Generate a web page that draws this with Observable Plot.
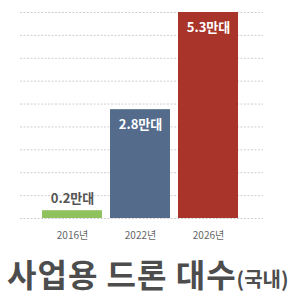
<!DOCTYPE html>
<html>
<head>
<meta charset="utf-8">
<script src="https://cdn.jsdelivr.net/npm/d3@7"></script>
<script src="https://cdn.jsdelivr.net/npm/@observablehq/plot@0.6"></script>
<style>
  body { margin: 0; background: #fff; font-family: "Noto Sans CJK KR", "Noto Sans", sans-serif; }
  #title { margin: 6px 0 0 7px; font-size: 32px; line-height: 44px; color: #4d4d4d; font-weight: 700; letter-spacing: 1px; white-space: nowrap; }
  #title span { font-size: 20px; letter-spacing: 0; }
</style>
</head>
<body>
<div id="chart"></div>
<div id="title">사업용 드론 대수<span>(국내)</span></div>
<script>
const years = ["2016년", "2022년", "2026년"];
const values = [0.2, 2.8, 5.3];
const unit = "만대";
const colors = ["#8fc15c", "#546b8c", "#a9352a"];

const data = years.map((year, i) => ({ year, value: values[i], label: values[i].toFixed(1) + unit }));
const yMax = d3.max(values);
const gridTicks = d3.range(0, 10).map(i => (yMax * i) / 9);

const plot = Plot.plot({
  width: 295,
  height: 245,
  marginTop: 12,
  marginBottom: 27,
  marginLeft: 20,
  marginRight: 32,
  style: { fontFamily: "Noto Sans CJK KR, Noto Sans, sans-serif", background: "#fff" },
  x: { domain: years, range: [38, 242], paddingInner: 8 / 68, paddingOuter: 4 / 68 },
  y: { domain: [0, yMax], axis: null },
  color: { domain: years, range: colors },
  marks: [
    Plot.ruleY(gridTicks, { stroke: "#cfcfcf", strokeDasharray: "2,1.5", strokeWidth: 1 }),
    Plot.barY(data, { x: "year", y: "value", fill: "year" }),
    Plot.text(data.filter(d => d.value < 1), { x: "year", y: "value", text: "label", dy: -12, fill: "#555", fontSize: 13, fontWeight: "bold" }),
    Plot.text(data.filter(d => d.value >= 1), { x: "year", y: "value", text: "label", dy: 15, fill: "#fff", fontSize: 13, fontWeight: "bold" }),
    Plot.axisX({ tickSize: 0, tickPadding: 13, fontSize: 10, color: "#666", label: null })
  ]
});
document.getElementById("chart").appendChild(plot);
</script>
</body>
</html>
